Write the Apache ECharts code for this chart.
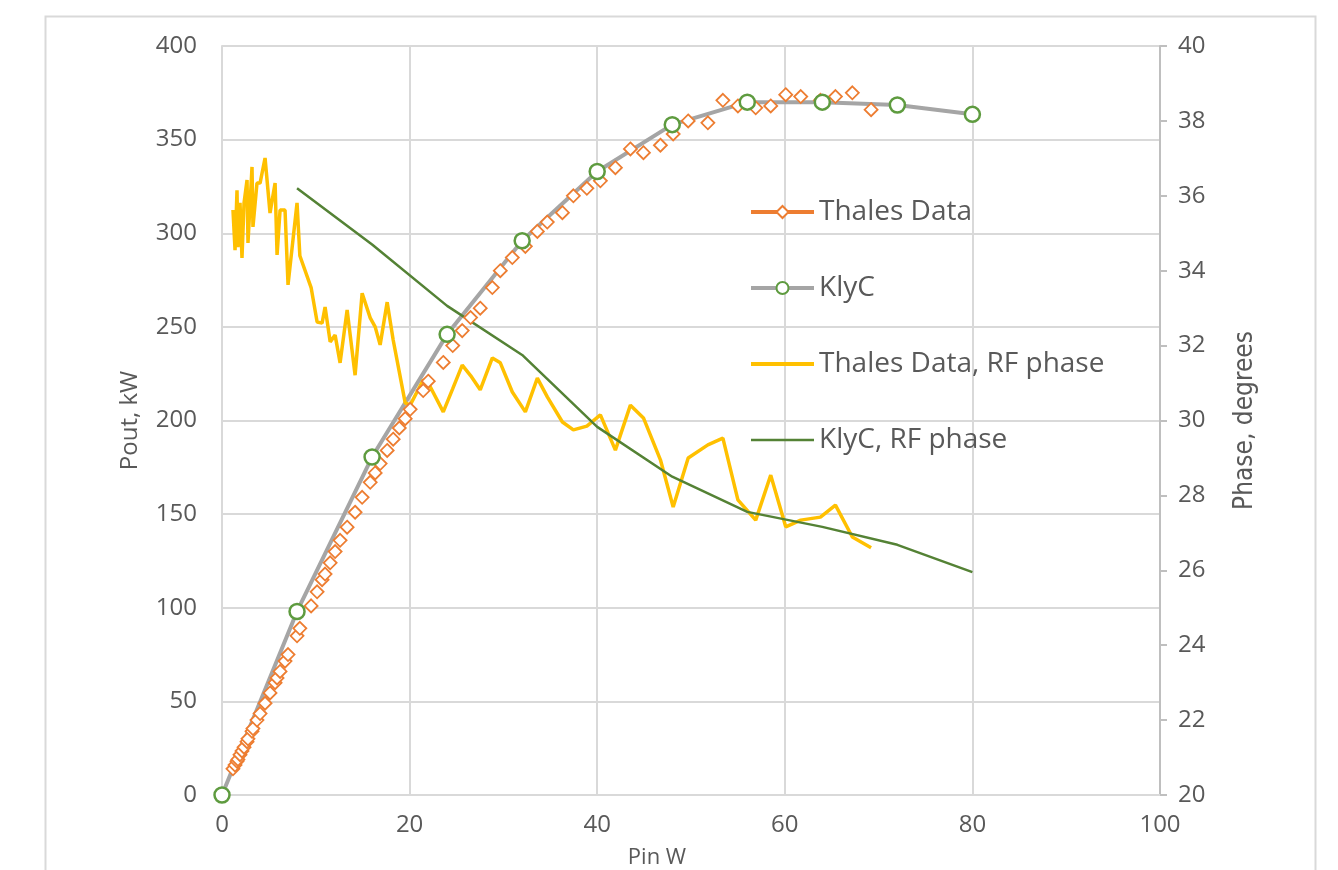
<!DOCTYPE html>
<html>
<head>
<meta charset="utf-8">
<script src="https://cdn.jsdelivr.net/npm/echarts@6/dist/echarts.min.js"></script>
<style>
html,body{margin:0;padding:0;background:#fff;}
#chart{width:1338px;height:870px;}
</style>
</head>
<body>
<div id="chart"></div>
<script>
// ---- data ----
const thalesPin = [1.17,1.39,1.6,1.7,1.92,2.13,2.35,2.67,2.77,3.2,3.3,3.73,4.06,4.59,5.12,5.66,5.87,6.19,6.72,7.04,8.0,8.3,9.5,10.14,10.67,10.99,11.53,12.06,12.59,13.34,14.19,14.94,15.8,16.33,16.86,17.61,18.25,18.9,19.53,20.06,21.45,21.99,23.59,24.6,25.61,26.5,27.53,28.82,29.67,30.95,32.34,33.62,34.68,36.29,37.46,38.9,40.34,41.94,43.54,44.93,46.74,48.1,49.7,51.8,53.4,55.0,56.9,58.5,60.1,61.7,63.8,65.4,67.2,69.2];
const thalesPout = [14,16,18,19,21.5,23.5,25.5,28.5,30,34,35.5,40,43.5,49,54.5,60,62.5,66,71.5,75,85,89,101,108.5,115,118,124,130,136,143,151,159,167,172,177,184,190,196,201,206,216,221,231,240,248,255,260,271,280,287,293,301,306,311,320,324,328,335,345,343,347,353,360,359,371,368,367,368,374,373,371,373,375,366];
const thalesPhase = [35.62,34.55,36.15,34.63,35.81,34.34,35.81,36.42,34.74,36.77,35.17,36.34,36.34,37.01,35.54,36.34,34.42,35.62,35.62,33.62,35.81,34.4,33.55,32.63,32.6,33.03,32.1,32.28,31.54,32.95,31.21,33.4,32.74,32.5,32.02,33.16,32.15,31.3,30.47,30.41,31.08,31.0,30.23,30.85,31.48,31.2,30.82,31.67,31.54,30.76,30.23,31.13,30.63,29.96,29.75,29.85,30.15,29.21,30.41,30.07,28.95,27.69,29.0,29.35,29.53,27.88,27.34,28.54,27.16,27.34,27.42,27.74,26.89,26.6];
const klycPin = [0,8,16,24,32,40,48,56,64,72,80];
const klycPout = [0,98,180.5,246,296,333,358,370,370,368.5,363.5];
const klycPhasePin = [8,16,24,32,40,48,56,64,72,80];
const klycPhase = [36.2,34.7,33.06,31.75,29.83,28.5,27.56,27.16,26.68,25.95];
const xTicks = [0,20,40,60,80,100];
const seriesNames = ['Thales Data','KlyC','Thales Data, RF phase','KlyC, RF phase'];

const zip = (a,b) => a.map((v,i)=>[v,b[i]]);
const FONT = "'Open Sans', 'DejaVu Sans', sans-serif";
const LABEL = '#595959';
const GRID = '#D9D9D9';

const chart = echarts.init(document.getElementById('chart'), null, {renderer:'canvas'});
chart.setOption({
  animation:false,
  backgroundColor:'#fff',
  graphic:[{type:'rect', left:43, top:14, shape:{width:1270, height:900}, style:{fill:'none', stroke:'#D9D9D9', lineWidth:2}, z:-10}],
  grid:{left:222, right:178, top:46, bottom:75, containLabel:false, outerBoundsMode:'none'},
  legend:{
    orient:'vertical', left:744, top:192, itemWidth:63, itemHeight:15, itemGap:46,
    textStyle:{fontFamily:FONT, fontSize:28, color:LABEL, lineHeight:30},
    data:[
      {name:seriesNames[0], lineStyle:{width:4, color:'#ED7D31', opacity:1}},
      {name:seriesNames[1], lineStyle:{width:4, color:'#A5A5A5'}},
      {name:seriesNames[2], lineStyle:{width:4, color:'#FFC000'}, itemStyle:{opacity:0}},
      {name:seriesNames[3], lineStyle:{width:2.5, color:'#548235'}, itemStyle:{opacity:0}}
    ]
  },
  xAxis:{
    type:'value', min:0, max:100, interval:20,
    name:'Pin W', nameLocation:'middle', nameGap:52,
    nameTextStyle:{fontFamily:FONT, fontSize:22, color:LABEL, padding:[0,68,0,0]},
    axisLine:{show:true, lineStyle:{color:GRID, width:2}},
    axisTick:{show:false},
    axisLabel:{fontFamily:FONT, fontSize:24, color:LABEL, margin:18, formatter:v=>xTicks.includes(v)?String(v):''},
    splitLine:{show:true, lineStyle:{color:GRID, width:2}}
  },
  yAxis:[{
    type:'value', min:0, max:400, interval:50, position:'left',
    name:'Pout, kW', nameLocation:'middle', nameGap:80,
    nameTextStyle:{fontFamily:FONT, fontSize:24, color:LABEL},
    axisLine:{show:true, lineStyle:{color:GRID, width:2}},
    axisTick:{show:false},
    axisLabel:{fontFamily:FONT, fontSize:24, color:LABEL, margin:25},
    splitLine:{show:true, lineStyle:{color:GRID, width:2}}
  },{
    type:'value', min:20, max:40, interval:2, position:'right',
    name:'Phase, degrees', nameLocation:'middle', nameGap:72,
    nameTextStyle:{fontFamily:"'Liberation Sans Narrow', 'DejaVu Sans Condensed', sans-serif", fontSize:26, color:LABEL},
    axisLine:{show:true, lineStyle:{color:'#BFBFBF', width:2}},
    axisTick:{show:true, inside:false, length:7, lineStyle:{color:'#BFBFBF', width:2}},
    axisLabel:{fontFamily:FONT, fontSize:24, color:LABEL, margin:18},
    splitLine:{show:false}
  }],
  series:[
    {
      name:seriesNames[0], type:'line', yAxisIndex:0,
      data:zip(thalesPin, thalesPout),
      symbol:'diamond', symbolSize:13, showAllSymbol:true,
      lineStyle:{width:0, color:'#ED7D31', opacity:0},
      itemStyle:{color:'#fff', borderColor:'#ED7D31', borderWidth:1.8},
      color:'#ED7D31'
    },
    {
      name:seriesNames[1], type:'line', yAxisIndex:0,
      data:zip(klycPin, klycPout),
      symbol:'circle', symbolSize:15, showAllSymbol:true,
      lineStyle:{width:4, color:'#A5A5A5'},
      itemStyle:{color:'#fff', borderColor:'#5E9B3F', borderWidth:2.5}
    },
    {
      name:seriesNames[2], type:'line', yAxisIndex:1,
      data:zip(thalesPin, thalesPhase),
      symbol:'none',
      lineStyle:{width:3.5, color:'#FFC000'},
      itemStyle:{color:'#FFC000'}
    },
    {
      name:seriesNames[3], type:'line', yAxisIndex:1,
      data:zip(klycPhasePin, klycPhase),
      symbol:'none',
      lineStyle:{width:2.5, color:'#548235'},
      itemStyle:{color:'#548235'}
    }
  ]
});
</script>
</body>
</html>
